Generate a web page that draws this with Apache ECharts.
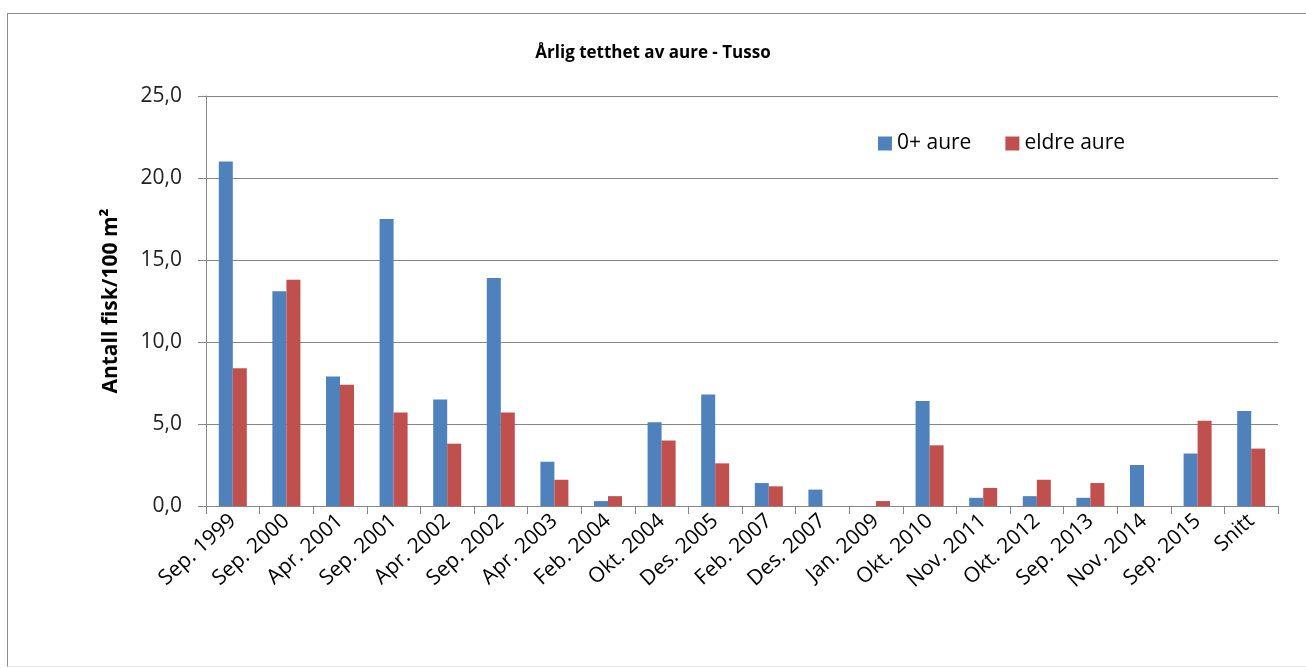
<!DOCTYPE html>
<html>
<head>
<meta charset="utf-8">
<script src="https://cdn.jsdelivr.net/npm/echarts@6/dist/echarts.min.js"></script>
<style>
  html, body { margin: 0; padding: 0; background: #fff; }
  #frame { position: absolute; left: 7px; top: 13px; width: 1310px; height: 652px;
           border-top: 1px solid #8c8c8c; border-left: 1px solid #8c8c8c; border-bottom: 1px solid #e6e6e6; }
  #main { position: absolute; left: 0; top: 0; width: 1306px; height: 668px; }
</style>
</head>
<body>
<div id="frame"></div>
<div id="main"></div>
<script>
// kategorier (x-akse)
var categories = ['Sep. 1999', 'Sep. 2000', 'Apr. 2001', 'Sep. 2001', 'Apr. 2002', 'Sep. 2002',
  'Apr. 2003', 'Feb. 2004', 'Okt. 2004', 'Des. 2005', 'Feb. 2007', 'Des. 2007', 'Jan. 2009',
  'Okt. 2010', 'Nov. 2011', 'Okt. 2012', 'Sep. 2013', 'Nov. 2014', 'Sep. 2015', 'Snitt'];
// 0+ aure
var aure0 = [21.0, 13.1, 7.9, 17.5, 6.5, 13.9, 2.7, 0.3, 5.1, 6.8, 1.4, 1.0, 0, 6.4, 0.5, 0.6, 0.5, 2.5, 3.2, 5.8];
// eldre aure
var aureEldre = [8.4, 13.8, 7.4, 5.7, 3.8, 5.7, 1.6, 0.6, 4.0, 2.6, 1.2, 0, 0.3, 3.7, 1.1, 1.6, 1.4, 0, 5.2, 3.5];
var yTicks = [0, 5, 10, 15, 20, 25];

var font = "'Open Sans', sans-serif";
var myChart = echarts.init(document.getElementById('main'));

myChart.setOption({
  animation: false,
  title: {
    text: 'Årlig tetthet av aure - Tusso',
    left: 'center',
    top: 40,
    textStyle: { fontFamily: font, fontSize: 17, fontWeight: 'bold', color: '#000' }
  },
  legend: {
    left: 873,
    top: 128,
    itemWidth: 14,
    itemHeight: 14,
    itemGap: 34,
    icon: 'rect',
    textStyle: { fontFamily: font, fontSize: 21, color: '#000' },
    data: ['0+ aure', 'eldre aure']
  },
  grid: { left: 206, right: 28, top: 96, bottom: 162 },
  xAxis: {
    type: 'category',
    data: categories,
    axisLine: { lineStyle: { color: '#868686', width: 1 } },
    axisTick: { show: true, length: 8, lineStyle: { color: '#868686' } },
    axisLabel: {
      rotate: 42, interval: 0, margin: 12,
      fontFamily: font, fontSize: 21, color: '#000'
    }
  },
  yAxis: {
    type: 'value',
    min: yTicks[0],
    max: yTicks[yTicks.length - 1],
    interval: 5,
    name: 'Antall fisk/100 m²',
    nameLocation: 'middle',
    nameGap: 84,
    nameTextStyle: { fontFamily: font, fontSize: 21, fontWeight: 'bold', color: '#000' },
    axisLine: { show: true, lineStyle: { color: '#868686', width: 1 } },
    axisTick: { show: true, length: 8, lineStyle: { color: '#868686' } },
    splitLine: { lineStyle: { color: '#868686', width: 1 } },
    axisLabel: {
      margin: 24,
      fontFamily: font, fontSize: 21, color: '#222',
      formatter: function (v) { return v.toFixed(1).replace('.', ','); }
    }
  },
  series: [
    { name: '0+ aure', type: 'bar', data: aure0, barWidth: 14, barGap: '0%',
      itemStyle: { color: '#4F81BD' } },
    { name: 'eldre aure', type: 'bar', data: aureEldre, barWidth: 14, barGap: '0%',
      itemStyle: { color: '#C0504D' } }
  ]
});
</script>
</body>
</html>
